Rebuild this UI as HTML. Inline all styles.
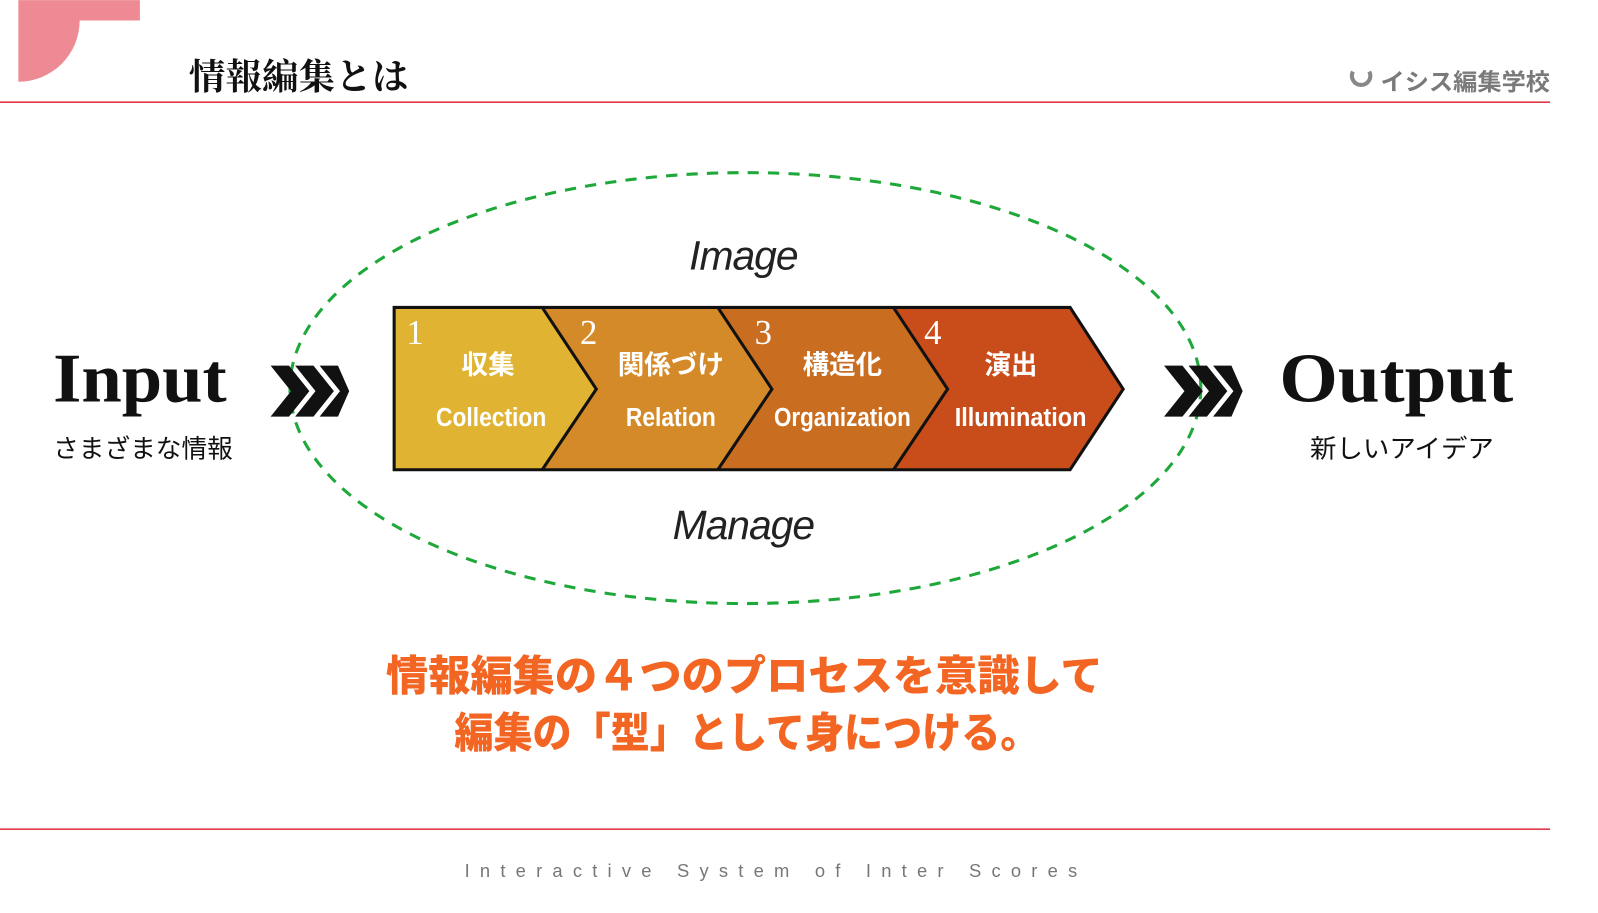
<!DOCTYPE html>
<html><head><meta charset="utf-8"><style>
html,body{margin:0;padding:0;background:#fff;width:1598px;height:913px;overflow:hidden}
svg{display:block}
</style></head><body>
<svg width="1598" height="913" viewBox="0 0 1565 894" xmlns="http://www.w3.org/2000/svg">
<path d="M18 0 H137 V20 H78 V20 A60 60 0 0 1 18 80 Z" fill="#ee8a93"/>
<text x="185" y="87" font-family="Liberation Serif, Noto Serif CJK SC, serif" font-weight="bold" font-size="35" fill="#111" textLength="215" lengthAdjust="spacingAndGlyphs">情報編集とは</text>
<line x1="0" y1="100" x2="1518" y2="100" stroke="#e23a48" stroke-width="1.5"/>
<path d="M1325 70 A9 9 0 1 0 1341 70" fill="none" stroke="#888" stroke-width="4"/>
<text x="1352" y="88" font-family="Liberation Sans, Noto Sans CJK JP, sans-serif" font-weight="bold" font-size="23" fill="#7a7a7a" textLength="166" lengthAdjust="spacingAndGlyphs">イシス編集学校</text>

<ellipse cx="730" cy="380" rx="446" ry="211" fill="none" stroke="#1ea83a" stroke-width="3" stroke-dasharray="11 9"/>
<text x="728" y="264" text-anchor="middle" font-family="Liberation Sans, sans-serif" font-style="italic" font-size="40" fill="#222" letter-spacing="-1">Image</text>
<text x="728" y="528" text-anchor="middle" font-family="Liberation Sans, sans-serif" font-style="italic" font-size="40" fill="#222" letter-spacing="-1">Manage</text>

<polygon points="386,301 531,301 584,381 531,460 386,460" fill="#e0b432"/>
<polygon points="531,301 703,301 756,381 703,460 531,460 584,381" fill="#d58a29"/>
<polygon points="703,301 875,301 928,381 875,460 703,460 756,381" fill="#c96d20"/>
<polygon points="875,301 1048,301 1100,381 1048,460 875,460 928,381" fill="#c94d1b"/>
<g fill="none" stroke="#111" stroke-width="3">
<polygon points="386,301 1048,301 1100,381 1048,460 386,460"/>
<polyline points="531,301 584,381 531,460"/>
<polyline points="703,301 756,381 703,460"/>
<polyline points="875,301 928,381 875,460"/>
</g>
<g font-family="Liberation Serif, serif" font-size="34" fill="#fff">
<text x="398" y="337">1</text><text x="568" y="337">2</text><text x="739" y="337">3</text><text x="905" y="337">4</text>
</g>
<g font-family="Liberation Sans, Noto Sans CJK JP, sans-serif" font-weight="bold" font-size="26" fill="#fff" text-anchor="middle">
<text x="478" y="366">収集</text><text x="657" y="366">関係づけ</text><text x="825" y="366">構造化</text><text x="990" y="366">演出</text>
</g>
<g font-family="Liberation Sans Narrow, Liberation Sans, sans-serif" font-weight="bold" font-size="25" fill="#fff" lengthAdjust="spacingAndGlyphs">
<text x="427" y="417" textLength="108" lengthAdjust="spacingAndGlyphs">Collection</text>
<text x="613" y="417" textLength="88" lengthAdjust="spacingAndGlyphs">Relation</text>
<text x="758" y="417" textLength="134" lengthAdjust="spacingAndGlyphs">Organization</text>
<text x="935" y="417" textLength="129" lengthAdjust="spacingAndGlyphs">Illumination</text>
</g>

<text x="52" y="393" font-family="Liberation Serif, serif" font-weight="bold" font-size="68" fill="#111" textLength="170" lengthAdjust="spacingAndGlyphs">Input</text>
<text x="52" y="448" font-family="Liberation Sans, Noto Sans CJK JP, sans-serif" font-size="25" fill="#111" textLength="176" lengthAdjust="spacingAndGlyphs">さまざまな情報</text>
<g fill="#111">
<polygon points="265,358 283,358 303,383 283,408 265,408 285,383"/>
<polygon points="289,358 307,358 327,383 307,408 289,408 309,383"/>
<polygon points="313,358 331,358 342,383 331,408 313,408 333,383"/>
</g>
<g fill="#111">
<polygon points="1140,358 1158,358 1178,383 1158,408 1140,408 1160,383"/>
<polygon points="1164,358 1182,358 1202,383 1182,408 1164,408 1184,383"/>
<polygon points="1188,358 1206,358 1217,383 1206,408 1188,408 1208,383"/>
</g>
<text x="1253" y="393" font-family="Liberation Serif, serif" font-weight="bold" font-size="68" fill="#111" textLength="229" lengthAdjust="spacingAndGlyphs">Output</text>
<text x="1283" y="448" font-family="Liberation Sans, Noto Sans CJK JP, sans-serif" font-size="25" fill="#111" textLength="180" lengthAdjust="spacingAndGlyphs">新しいアイデア</text>

<g font-family="Liberation Sans, Noto Sans CJK JP, sans-serif" font-weight="900" font-size="41" fill="#f26522">
<text x="378" y="676" textLength="702" lengthAdjust="spacingAndGlyphs">情報編集の４つのプロセスを意識して</text>
<text x="445" y="732" textLength="573" lengthAdjust="spacingAndGlyphs">編集の「型」として身につける。</text>
</g>
<line x1="0" y1="812" x2="1518" y2="812" stroke="#e23a48" stroke-width="1.5"/>
<text x="455" y="859" font-family="Liberation Sans, sans-serif" font-size="18" fill="#777" textLength="600" lengthAdjust="spacing">Interactive  System  of  Inter  Scores</text>
</svg>
</body></html>
